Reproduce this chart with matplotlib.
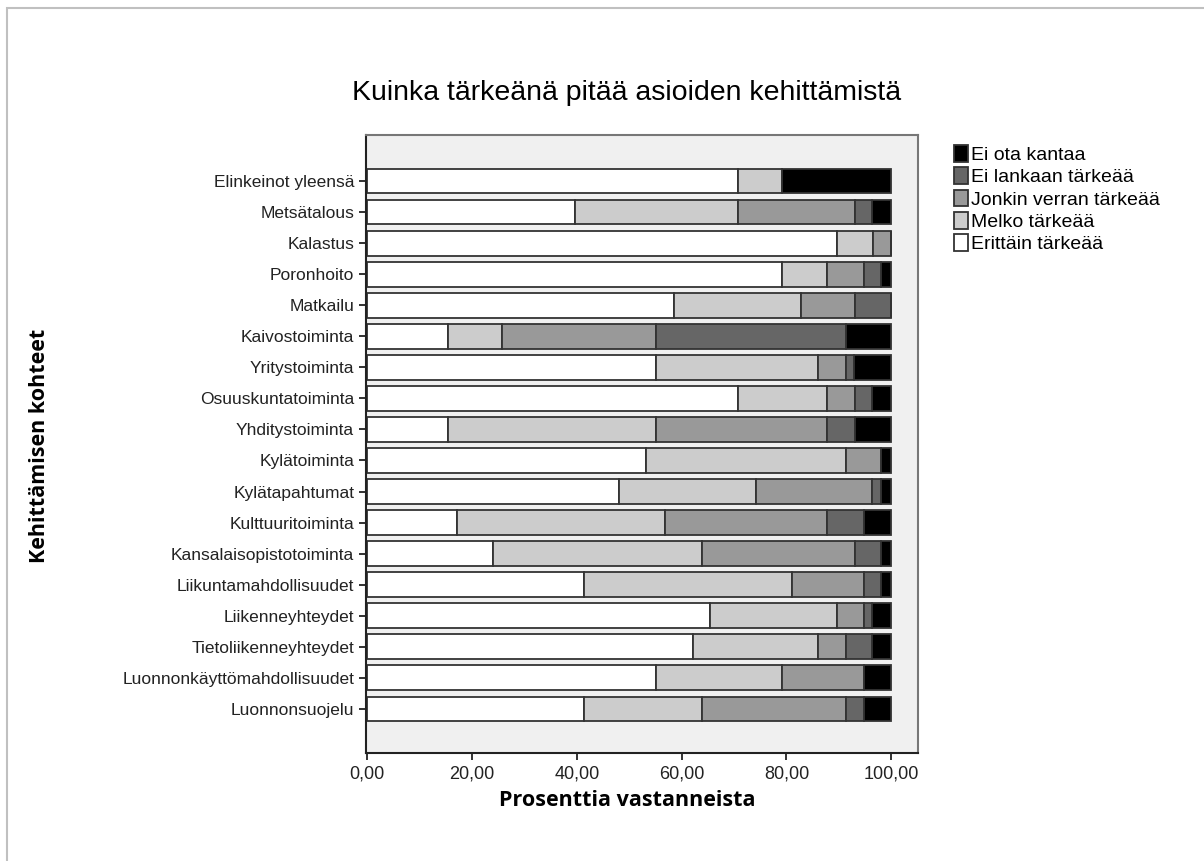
import matplotlib
matplotlib.use("Agg")
import matplotlib.pyplot as plt
import numpy as np
from matplotlib.patches import Rectangle

# Data (percent of respondents)
categories = ["Elinkeinot yleensä", "Metsätalous", "Kalastus", "Poronhoito", "Matkailu",
              "Kaivostoiminta", "Yritystoiminta", "Osuuskuntatoiminta", "Yhditystoiminta",
              "Kylätoiminta", "Kylätapahtumat", "Kulttuuritoiminta", "Kansalaisopistotoiminta",
              "Liikuntamahdollisuudet", "Liikenneyhteydet", "Tietoliikenneyhteydet",
              "Luonnonkäyttömahdollisuudet", "Luonnonsuojelu"]
erittain = [70.7, 39.6, 89.7, 79.2, 58.6, 15.5, 55.2, 70.7, 15.5, 53.3, 48.1, 17.2, 24.1, 41.4, 65.5, 62.1, 55.2, 41.4]
melko = [8.4, 31.1, 6.9, 8.6, 24.1, 10.2, 30.9, 17.1, 39.7, 38.0, 26.0, 39.6, 39.7, 39.6, 24.2, 24.0, 24.0, 22.4]
jonkin = [0.0, 22.4, 3.4, 6.9, 10.4, 29.5, 5.2, 5.3, 32.6, 6.8, 22.3, 31.0, 29.3, 13.7, 5.0, 5.2, 15.5, 27.5]
ei_lankaan = [0.0, 3.3, 0.0, 3.4, 6.9, 36.1, 1.6, 3.3, 5.3, 0.0, 1.7, 6.9, 5.0, 3.4, 1.7, 5.1, 0.0, 3.4]
ei_ota = [20.9, 3.6, 0.0, 1.9, 0.0, 8.7, 7.1, 3.6, 6.9, 1.9, 1.9, 5.3, 1.9, 1.9, 3.6, 3.6, 5.3, 5.3]

series = [("Erittäin tärkeää", erittain, "#ffffff"),
          ("Melko tärkeää", melko, "#cccccc"),
          ("Jonkin verran tärkeää", jonkin, "#999999"),
          ("Ei lankaan tärkeää", ei_lankaan, "#666666"),
          ("Ei ota kantaa", ei_ota, "#000000")]

plt.rcParams['font.family'] = ['Liberation Sans', 'DejaVu Sans']

fig = plt.figure(figsize=(12.04, 8.61), dpi=100)
ax = fig.add_axes([0.304, 0.1254, 0.4585, 0.7178])
ax.set_facecolor("#f0f0f0")

# light gray outer frame of the picture
fig.patches.append(Rectangle((7/1204, -0.1), 1.2, 1 - 8/861 + 0.1, transform=fig.transFigure,
                             fill=False, edgecolor="#c0c0c0", linewidth=1.5))

y = np.arange(len(categories))
left = np.zeros(len(categories))
handles = {}
for name, vals, col in series:
    vals = np.array(vals)
    b = ax.barh(y, vals, left=left, height=0.8, color=col, edgecolor="#333333", linewidth=1.3,
                label=name)
    handles[name] = b
    left += vals

ax.set_yticks(y)
ax.set_yticklabels(categories, fontsize=12.5, color="#222222")
ax.set_ylim(18.42, -1.48)
ax.set_xlim(-0.2, 105.1)
ax.set_xticks([0, 20, 40, 60, 80, 100])
ax.set_xticklabels(["0,00", "20,00", "40,00", "60,00", "80,00", "100,00"], fontsize=13, color="#222222")
ax.tick_params(axis="both", direction="out", length=5, width=1.3, color="#222222")
ax.tick_params(axis="x", pad=4)

ax.spines["left"].set_color("#222222")
ax.spines["bottom"].set_color("#222222")
ax.spines["top"].set_color("#777777")
ax.spines["right"].set_color("#777777")
for s in ax.spines.values():
    s.set_linewidth(1.5)

fig.text(627/1204, 1 - 93/861, "Kuinka tärkeänä pitää asioiden kehittämistä",
         ha="center", va="center", fontsize=20.5)
fig.text(627/1204, 1 - 801/861, "Prosenttia vastanneista", ha="center", va="center",
         fontsize=15.5, fontweight="bold", family=["Open Sans", "DejaVu Sans"])
fig.text(40/1204, 1 - 446/861, "Kehittämisen kohteet", ha="center", va="center", rotation=90,
         fontsize=15.5, fontweight="bold", family=["Open Sans", "DejaVu Sans"])

order = ["Ei ota kantaa", "Ei lankaan tärkeää", "Jonkin verran tärkeää", "Melko tärkeää", "Erittäin tärkeää"]
leg = fig.legend([handles[n] for n in order], order, loc="upper left",
                 bbox_to_anchor=(946/1204, 1 - 137/861), frameon=False, fontsize=14,
                 handlelength=0.75, handleheight=0.95, handletextpad=0.15, labelspacing=0.17,
                 borderaxespad=0)

fig.savefig("out.png", dpi=100)
